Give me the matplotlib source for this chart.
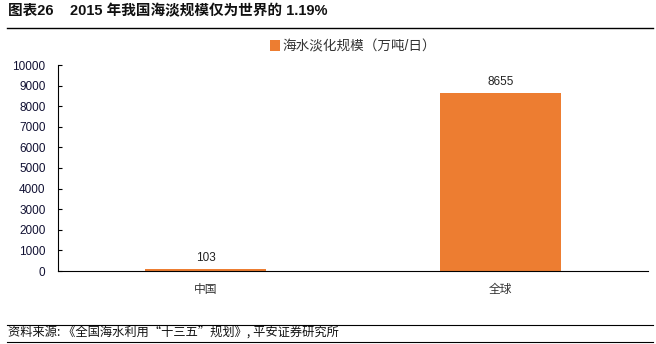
import matplotlib
matplotlib.use("Agg")
import matplotlib.pyplot as plt
from matplotlib.lines import Line2D

plt.rcParams['font.family'] = ['Liberation Sans', 'Noto Sans CJK SC', 'DejaVu Sans']

categories = ["中国", "全球"]
values = [103, 8655]
series_name = "海水淡化规模（万吨/日）"
yticks = [0, 1000, 2000, 3000, 4000, 5000, 6000, 7000, 8000, 9000, 10000]
title = "图表26    2015 年我国海淡规模仅为世界的 1.19%"
source = "资料来源: 《全国海水利用“十三五”规划》, 平安证券研究所"

color = "#ED7D31"

fig = plt.figure(figsize=(6.56, 3.44), dpi=100)
ax = fig.add_axes([58/656, 1-271/344, (648-58)/656, (271-65)/344])

x = list(range(len(categories)))
bars = ax.bar(x, values, width=0.41, color=color, label=series_name)
for xi, v in zip(x, values):
    ax.text(xi, v + 250, str(v), ha='center', va='bottom', fontsize=8.5, color='#222222')

ax.set_xlim(-0.5, 1.5)
ax.set_ylim(0, 10000)
ax.set_yticks(yticks)
ax.set_yticklabels([str(t) for t in yticks], fontsize=8.5, color='#111133')
ax.set_xticks(x)
ax.set_xticklabels(categories, fontsize=8.5, color='#333333')
ax.tick_params(axis='x', length=0, pad=9)
ax.tick_params(axis='y', length=3, direction='in', pad=9, width=0.8)
for s in ['top', 'right']:
    ax.spines[s].set_visible(False)
ax.spines['left'].set_linewidth(0.8)
ax.spines['bottom'].set_linewidth(0.8)

ax.legend(loc='lower center', bbox_to_anchor=(0.5, 1.03), frameon=False, fontsize=9.8,
          handlelength=0.7, handleheight=0.9, handletextpad=0.2, borderaxespad=0,
          labelcolor='#333333')

fig.text(8/656, 1-11/344, title, fontsize=10.5, fontweight='bold', va='center', ha='left', color='#111111')
fig.add_artist(Line2D([0.01, 0.995], [1-28/344, 1-28/344], color='black', lw=1.0))
fig.add_artist(Line2D([0.01, 0.995], [1-325/344, 1-325/344], color='black', lw=0.8))
fig.add_artist(Line2D([0.01, 0.995], [1-342/344, 1-342/344], color='black', lw=0.8))
fig.text(8/656, 1-333/344, source, fontsize=8.8, style='italic', va='center', ha='left',
         color='#111111', family=['Noto Sans CJK SC', 'DejaVu Sans'])

fig.savefig("out.png", dpi=100)
